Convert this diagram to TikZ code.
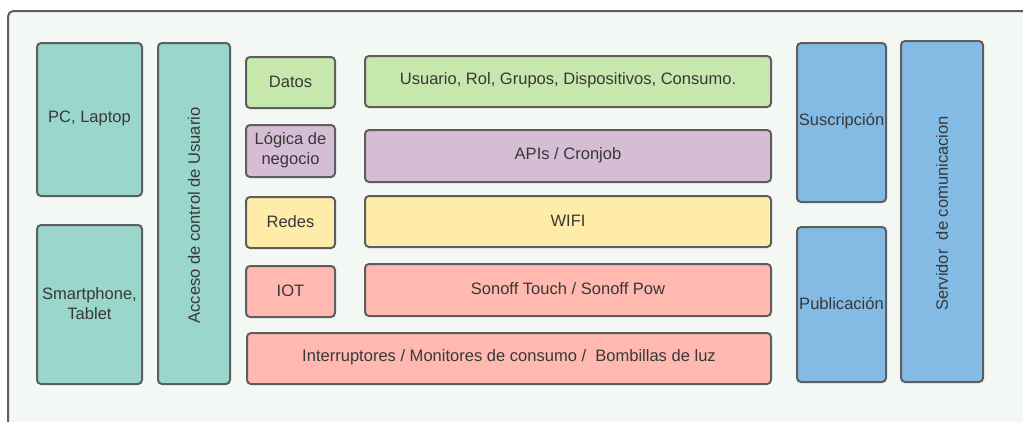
\documentclass[tikz,border=0pt]{standalone}
\usepackage{fontspec}
\setmainfont{Liberation Sans}
\definecolor{framefill}{HTML}{F4F8F4}
\definecolor{edge}{HTML}{5E5E5E}
\definecolor{ink}{HTML}{383838}
\definecolor{teal}{HTML}{9AD6CB}
\definecolor{leaf}{HTML}{C7E8AC}
\definecolor{lilac}{HTML}{D5BED5}
\definecolor{sand}{HTML}{FFECA8}
\definecolor{coral}{HTML}{FFB9B0}
\definecolor{sky}{HTML}{83BBE5}
\tikzset{
  blk/.style={draw=edge, line width=1.5pt, rounded corners=3pt,
    inner sep=0pt, outer sep=0pt},
  txt/.style={text=ink, font=\fontsize{12.4pt}{15pt}\selectfont,
    align=center, yshift=0.75pt},
  vtxt/.style={text=ink, font=\fontsize{12.4pt}{15pt}\selectfont,
    rotate=90, xshift=-1.5pt},
}
\begin{document}
\begin{tikzpicture}[x=0.75pt, y=-0.75pt]
  \useasboundingbox (0,0) rectangle (1023,421);
  \clip (0,0) rectangle (1023,421);
  % outer frame running off the right and bottom edges
  \draw[draw=edge, line width=1.5pt, fill=framefill, rounded corners=4pt]
    (8,11) rectangle (1060,460);

  % client devices and access control
  \node[blk, fill=teal, minimum width=78.75pt, minimum height=114.75pt,
    label={[txt]center:PC, Laptop}] (pc) at (89.5,119.5) {};
  \node[blk, fill=teal, minimum width=78.75pt, minimum height=119.25pt,
    label={[txt]center:Smartphone,\\Tablet}] (phone) at (89.5,304.5) {};
  \node[blk, fill=teal, minimum width=54pt, minimum height=255.75pt,
    label={[vtxt]center:Acceso de control de Usuario}] (acceso) at (194,213.5) {};

  % layer names
  \node[blk, fill=leaf, minimum width=66.75pt, minimum height=38.25pt,
    label={[txt]center:Datos}] (datos) at (290.5,82.5) {};
  \node[blk, fill=lilac, minimum width=66.75pt, minimum height=39pt,
    label={[txt]center:Lógica de\\negocio}] (logica) at (290.5,151) {};
  \node[blk, fill=sand, minimum width=66.75pt, minimum height=38.25pt,
    label={[txt]center:Redes}] (redes) at (290.5,222.5) {};
  \node[blk, fill=coral, minimum width=66.75pt, minimum height=38.25pt,
    label={[txt]center:IOT}] (iot) at (290.5,291.5) {};

  % layer contents
  \node[blk, fill=leaf, minimum width=304.5pt, minimum height=38.25pt,
    label={[txt]center:Usuario, Rol, Grupos, Dispositivos, Consumo.}] (usuario) at (568,81.5) {};
  \node[blk, fill=lilac, minimum width=304.5pt, minimum height=39pt,
    label={[txt]center:APIs / Cronjob}] (apis) at (568,156) {};
  \node[blk, fill=sand, minimum width=304.5pt, minimum height=38.25pt,
    label={[txt]center:WIFI}] (wifi) at (568,221.5) {};
  \node[blk, fill=coral, minimum width=304.5pt, minimum height=39pt,
    label={[txt]center:Sonoff Touch / Sonoff Pow}] (sonoff) at (568,290) {};
  \node[blk, fill=coral, minimum width=393pt, minimum height=38.25pt,
    label={[txt]center:Interruptores / Monitores de consumo /~ Bombillas de luz}] (disp) at (509,358.5) {};

  % messaging server
  \node[blk, fill=sky, minimum width=66.75pt, minimum height=119.25pt,
    label={[txt]center:Suscripción}] (sus) at (841.5,122.5) {};
  \node[blk, fill=sky, minimum width=66.75pt, minimum height=116.25pt,
    label={[txt]center:Publicación}] (pub) at (841.5,304.5) {};
  \node[blk, fill=sky, minimum width=61.5pt, minimum height=255.75pt,
    label={[vtxt]center:Servidor~ de comunicacion}] (servidor) at (942,211.5) {};
\end{tikzpicture}
\end{document}
